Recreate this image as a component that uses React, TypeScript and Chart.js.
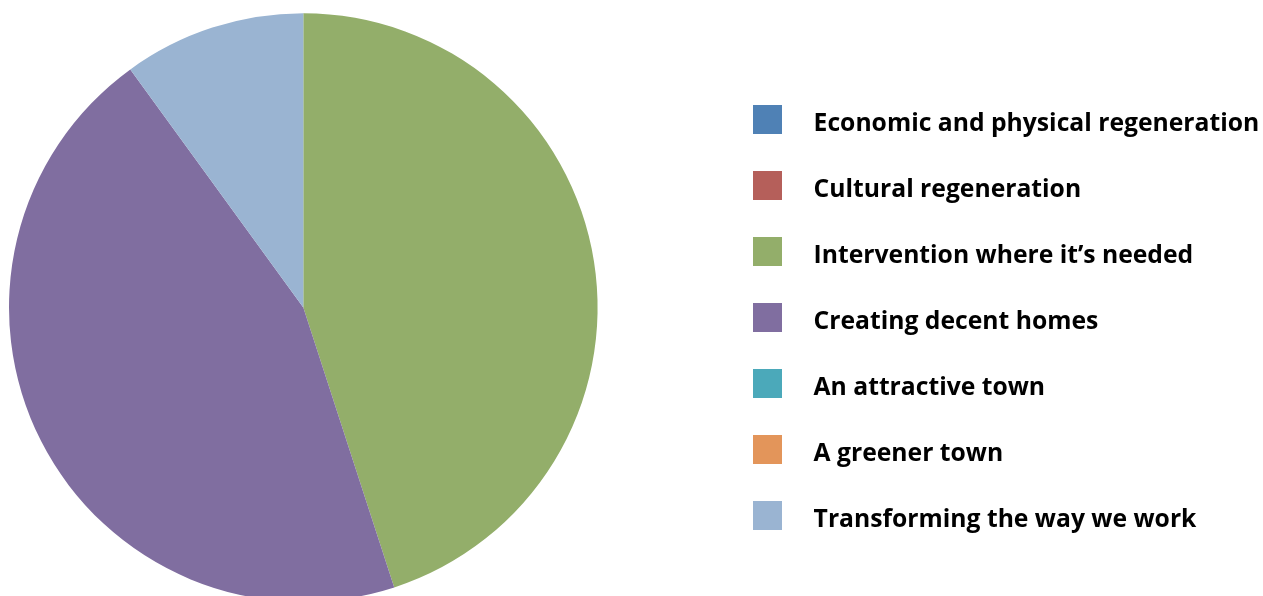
import React, { useEffect, useRef } from "react";
import { Chart, registerables, layouts } from "chart.js";

Chart.register(...registerables);

const categories: string[] = [
  "Economic and physical regeneration",
  "Cultural regeneration",
  "Intervention where it’s needed",
  "Creating decent homes",
  "An attractive town",
  "A greener town",
  "Transforming the way we work",
];

const values: number[] = [0, 0, 45, 45, 0, 0, 10];

const colors: string[] = [
  "#4F81B5",
  "#B55F5A",
  "#93AE6A",
  "#806EA0",
  "#4BA9BA",
  "#E3955A",
  "#9AB4D2",
];

const FONT_FAMILY = '"Open Sans"';
const FONT_SIZE = 24.7;
const TEXT_SHIFT = 4.5;
const ROW_STEP = 66;
const LEGEND_PADDING = ROW_STEP - 2 * TEXT_SHIFT;
const CANVAS_H = 615;
const LABEL_PAD = "   ";
const BOX = 29;
const BOX_X = 753;
const LEGEND_LEFT = BOX_X - LEGEND_PADDING;
const PIE_RIGHT = 597.6;
const SPACER_W = LEGEND_LEFT - PIE_RIGHT;

const spacerPlugin = {
  id: "legendSpacer",
  beforeInit(chart: any) {
    const box: any = {
      position: "right",
      weight: 0,
      fullSize: false,
      options: { display: false },
      left: 0,
      top: 0,
      right: 0,
      bottom: 0,
      width: 0,
      height: 0,
      isHorizontal() {
        return false;
      },
      update(_maxWidth: number, maxHeight: number) {
        box.width = SPACER_W;
        box.height = maxHeight;
      },
      draw() {},
    };
    layouts.addBox(chart, box);
  },
};

export default function App() {
  const ref = useRef<HTMLCanvasElement | null>(null);

  useEffect(() => {
    const canvas = ref.current;
    if (!canvas) return;
    const mctx = document.createElement("canvas").getContext("2d")!;
    mctx.font = `bold ${FONT_SIZE}px ${FONT_FAMILY}`;
    let maxW = 0;
    categories.forEach((t) => {
      maxW = Math.max(maxW, mctx.measureText(LABEL_PAD + t).width);
    });
    const legendW = LEGEND_PADDING + BOX + FONT_SIZE / 2 + maxW + 10;
    const canvasW = Math.ceil(LEGEND_LEFT + legendW);
    canvas.width = canvasW;
    canvas.height = CANVAS_H;
    canvas.style.width = canvasW + "px";
    canvas.style.height = CANVAS_H + "px";

    const chart = new Chart(canvas, {
      type: "pie",
      data: {
        labels: categories,
        datasets: [
          {
            data: values,
            backgroundColor: colors,
            borderWidth: 0,
          },
        ],
      },
      options: {
        animation: false,
        responsive: false,
        layout: {
          padding: {
            left: 9,
            top: 13,
            right: canvasW - (LEGEND_LEFT + legendW),
            bottom: 13,
          },
        },
        plugins: {
          tooltip: { enabled: false },
          legend: {
            position: "right",
            labels: {
              boxWidth: BOX,
              boxHeight: BOX,
              padding: LEGEND_PADDING,
              color: "#000000",
              font: {
                family: FONT_FAMILY,
                size: FONT_SIZE,
                weight: "bold",
                lineHeight: TEXT_SHIFT + "px",
              },
              generateLabels: () =>
                categories.map((t, i) => ({
                  text: ["", LABEL_PAD + t],
                  fillStyle: colors[i],
                  strokeStyle: colors[i],
                  lineWidth: 0,
                  hidden: false,
                  index: i,
                  fontColor: "#000000",
                })) as any,
            },
          },
        },
      },
      plugins: [spacerPlugin],
    });
    return () => chart.destroy();
  }, []);

  return (
    <div
      style={{
        position: "absolute",
        left: 0,
        top: 0,
        width: 1263,
        height: 596,
        overflow: "hidden",
        background: "#ffffff",
      }}
    >
      <canvas ref={ref} style={{ display: "block" }} />
    </div>
  );
}
